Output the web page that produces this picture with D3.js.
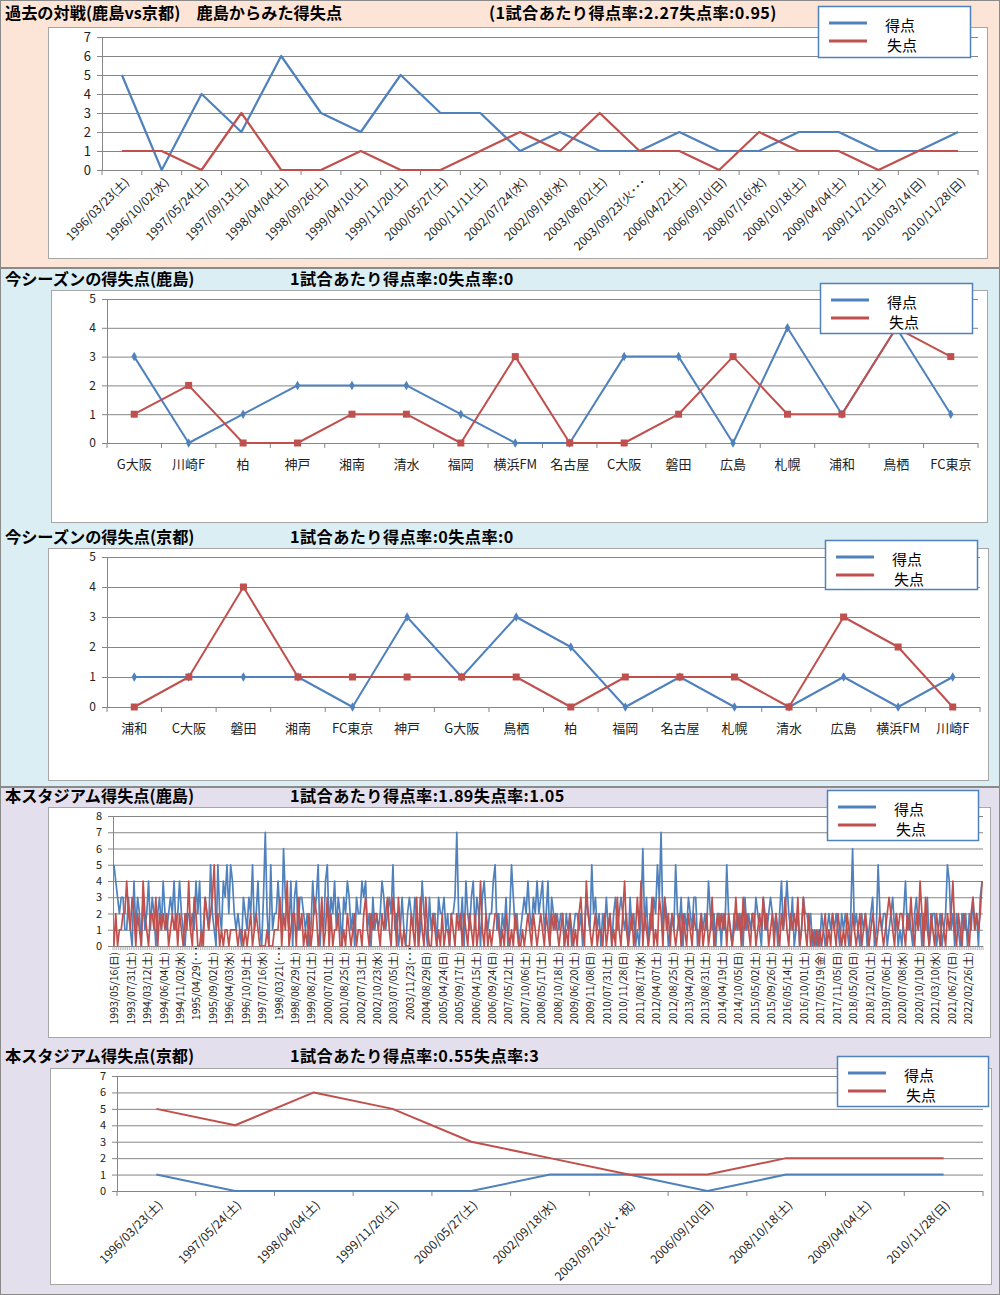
<!DOCTYPE html>
<html><head><meta charset="utf-8">
<script src="https://cdn.jsdelivr.net/npm/d3@7"></script>
<style>body{margin:0;background:#fff}svg{display:block}</style>
</head><body><svg id="c" width="1000" height="1295"></svg>
<script>
// ---------- DATA ----------
const h2hDates = ["1996/03/23(土)","1996/10/02(水)","1997/05/24(土)","1997/09/13(土)","1998/04/04(土)","1998/09/26(土)","1999/04/10(土)","1999/11/20(土)","2000/05/27(土)","2000/11/11(土)","2002/07/24(水)","2002/09/18(水)","2003/08/02(土)","2003/09/23(火･･･","2006/04/22(土)","2006/09/10(日)","2008/07/16(水)","2008/10/18(土)","2009/04/04(土)","2009/11/21(土)","2010/03/14(日)","2010/11/28(日)"];
const h2hFor     = [5,0,4,2,6,3,2,5,3,3,1,2,1,1,2,1,1,2,2,1,1,2];
const h2hAgainst = [1,1,0,3,0,0,1,0,0,1,2,1,3,1,1,0,2,1,1,0,1,1];

const kashimaTeams   = ["G大阪","川崎F","柏","神戸","湘南","清水","福岡","横浜FM","名古屋","C大阪","磐田","広島","札幌","浦和","鳥栖","FC東京"];
const kashimaFor     = [3,0,1,2,2,2,1,0,0,3,3,0,4,1,4,1];
const kashimaAgainst = [1,2,0,0,1,1,0,3,0,0,1,3,1,1,4,3];

const kyotoTeams   = ["浦和","C大阪","磐田","湘南","FC東京","神戸","G大阪","鳥栖","柏","福岡","名古屋","札幌","清水","広島","横浜FM","川崎F"];
const kyotoFor     = [1,1,1,1,0,3,1,3,2,0,1,0,0,1,0,1];
const kyotoAgainst = [0,1,4,1,1,1,1,1,0,1,1,1,0,3,2,0];

const homeTickLabels = ["1993/05/16(日)","1993/07/31(土)","1994/03/12(土)","1994/06/04(土)","1994/11/02(水)","1995/04/29(･･･","1995/09/02(土)","1996/04/03(水)","1996/10/19(土)","1997/07/16(水)","1998/03/21(･･･","1998/08/29(土)","1999/08/21(土)","2000/07/01(土)","2001/08/25(土)","2002/07/13(土)","2002/10/23(水)","2003/07/05(土)","2003/11/23(･･･","2004/08/29(日)","2005/04/24(日)","2005/09/17(土)","2006/04/15(土)","2006/09/24(日)","2007/05/12(土)","2007/10/06(土)","2008/05/17(土)","2008/10/18(土)","2009/06/20(土)","2009/11/08(日)","2010/07/31(土)","2010/11/28(日)","2011/08/17(水)","2012/04/07(土)","2012/08/25(土)","2013/04/20(土)","2013/08/31(土)","2014/04/19(土)","2014/10/05(日)","2015/05/02(土)","2015/09/26(土)","2016/05/14(土)","2016/10/01(土)","2017/05/19(金)","2017/11/05(日)","2018/05/20(日)","2018/12/01(土)","2019/07/06(土)","2020/07/08(水)","2020/10/10(土)","2021/03/10(水)","2021/06/27(日)","2022/02/26(土)"];
const homeLabelEvery = 9;
const homeFor = [
5,4,3,2,3,3,1,1,3, 1,0,4,1,3,2,0,3,1, 2,4,1,3,2,0,2,3,1, 4,2,1,2,3,2,4,1,2, 4,2,1,0,2,2,1,2,1,
4,2,4,0,1,3,2,1,5, 2,1,0,5,2,1,4,3,5, 2,5,4,2,1,2,1,0,3, 2,1,3,2,5,1,2,4,1, 0,3,7,2,0,5,1,2,2,
4,2,1,6,3,2,1,4,0, 3,4,1,3,3,2,1,2,0, 1,4,2,3,5,0,2,1,4, 5,1,3,2,4,1,3,2,0, 3,2,4,3,1,2,0,3,2,
2,4,3,4,1,2,0,3,1, 2,1,2,4,3,1,2,3,2, 5,1,2,0,1,3,1,0,2, 3,2,1,3,2,0,1,4,2, 1,0,3,1,2,2,0,3,2,
2,3,1,2,0,2,2,3,7, 2,1,3,0,4,2,1,3,4, 1,3,2,0,3,4,2,1,2, 2,4,5,1,2,0,2,1,3, 0,2,5,3,1,2,0,1,2,
3,2,4,2,1,3,2,4,2, 3,4,1,2,4,0,3,2,1, 2,1,2,2,0,2,1,2,0, 1,2,2,1,2,0,1,3,2, 1,5,2,3,1,2,0,2,1,
3,1,2,0,2,3,1,2,3, 2,1,2,0,3,1,2,0,1, 0,2,6,1,3,0,2,1,3, 2,5,3,7,1,3,2,0,1, 2,1,5,2,1,3,0,2,1,
3,2,1,3,3,0,1,2,1, 2,1,4,2,1,2,0,2,2, 0,2,1,5,2,1,0,2,1, 2,1,2,0,3,1,2,1,2, 1,3,2,1,0,3,2,1,2,
3,2,1,2,0,2,4,1,2, 4,2,1,3,0,1,2,0,1, 3,2,2,1,2,0,1,0,1, 0,2,1,0,1,2,1,2,1, 2,1,0,2,1,2,1,0,2,
6,1,2,1,0,2,1,2,0, 1,2,3,0,1,5,2,1,2, 2,0,1,2,3,1,2,0,1, 0,2,4,1,2,1,0,2,3, 1,2,0,2,1,3,0,1,2,
2,0,1,2,0,1,2,5,4, 1,2,0,2,1,0,2,1,2, 0,2,1,3,1,2,0,3,4];
const homeAgainst = [
0,2,0,1,1,2,2,4,2, 1,3,2,0,2,1,0,4,2, 1,0,2,2,1,3,0,2,1, 2,1,2,0,1,2,1,2,0, 2,1,0,2,1,4,1,0,3,
2,0,0,1,0,3,2,1,2, 3,5,1,2,0,1,0,1,1, 0,1,1,1,1,0,1,1,0, 1,0,1,2,0,1,2,1,0, 0,0,0,1,0,0,0,1,1,
1,3,0,2,1,4,0,1,2, 2,0,3,1,2,0,1,0,2, 0,1,3,2,0,1,3,0,1, 3,0,2,0,1,1,2,0,0, 1,0,2,1,0,1,2,0,1,
1,0,2,3,1,0,2,1,2, 2,1,0,2,1,2,3,1,0, 3,2,0,3,1,0,1,0,0, 0,2,1,0,3,0,3,1,0, 3,1,0,0,2,1,0,1,0,
2,0,1,1,0,2,1,0,2, 1,2,0,2,1,0,2,1,0, 2,0,1,4,1,0,2,0,1, 0,1,2,2,1,0,1,0,2, 1,0,1,0,2,1,0,0,1,
0,1,2,1,0,2,1,0,1, 2,1,0,2,1,0,2,1,2, 1,0,1,2,0,1,0,2,1, 0,1,0,2,3,1,0,4,2, 1,0,1,2,0,1,1,0,2,
0,1,2,0,1,0,3,1,0, 2,4,1,0,1,2,0,1,3, 1,4,0,2,1,0,1,3,0, 1,0,3,2,0,3,1,2,0, 2,1,0,1,2,0,2,1,0,
2,1,0,2,1,1,0,2,0, 1,2,0,1,3,0,1,2,1, 2,1,2,0,2,1,0,1,3, 1,2,0,3,1,2,1,0,2, 2,0,1,2,1,3,1,2,0,
1,2,0,2,1,0,2,1,3, 1,0,2,1,2,1,3,0,1, 3,1,0,2,0,1,0,1,0, 1,0,1,2,0,1,0,2,1, 0,2,1,0,1,0,2,1,0,
2,1,0,1,2,0,1,2,1, 0,1,2,1,0,1,2,1,0, 1,2,3,2,1,0,2,1,2, 2,1,0,2,1,3,1,0,2, 1,4,2,0,3,1,0,2,1,
0,2,1,0,2,1,0,2,1, 2,4,1,0,2,1,0,2,1, 1,0,2,3,1,2,1,2,4];

const kyotoHomeDates = ["1996/03/23(土)","1997/05/24(土)","1998/04/04(土)","1999/11/20(土)","2000/05/27(土)","2002/09/18(水)","2003/09/23(火・祝)","2006/09/10(日)","2008/10/18(土)","2009/04/04(土)","2010/11/28(日)"];
const kyotoHomeFor     = [1,0,0,0,0,1,1,0,1,1,1];
const kyotoHomeAgainst = [5,4,6,5,3,2,1,1,2,2,2];

const seriesNames = ["得点","失点"];

// ---------- DRAW ----------
const FONT = '"Noto Sans CJK JP","Noto Sans",sans-serif';
const BLUE = '#4F81BD', RED = '#C0504D', GRID = '#868686';
const svg = d3.select('#c').style('font-family', FONT);

// section backgrounds
[[0,0,1000,268,'#FCE5D6'],[0,268,1000,519,'#DBEEF3'],[0,787,1000,508,'#E4DFEC']].forEach(s=>{
  svg.append('rect').attr('x',s[0]+0.5).attr('y',s[1]+0.5).attr('width',s[2]-1).attr('height',s[3]-1)
    .attr('fill',s[4]).attr('stroke','#8a8a8a');
});

function drawPanel(c){
  const g = svg.append('g');
  g.append('text').attr('x',5).attr('y',c.titleY).attr('dominant-baseline','central')
    .attr('font-size',16.2).attr('font-weight','bold').attr('fill','#000').text(c.title);
  g.append('text').attr('x',c.subX).attr('y',c.titleY).attr('dominant-baseline','central')
    .attr('font-size',16.2).attr('letter-spacing',0.4).attr('font-weight','bold').attr('fill','#000').text(c.sub);
  g.append('rect').attr('x',c.box[0]+0.5).attr('y',c.box[1]+0.5)
    .attr('width',c.box[2]-c.box[0]).attr('height',c.box[3]-c.box[1])
    .attr('fill','#fff').attr('stroke','#a6a6a6');

  const n = c.cats.length;
  const x = d3.scaleBand().domain(d3.range(n)).range([c.left,c.right]);
  const y = d3.scaleLinear().domain([0,c.yMax]).range([c.bottom,c.top]);
  const bw = x.bandwidth();
  const cx = i => x(i) + bw/2;
  const tv = d3.range(0,c.yMax+1);

  // gridlines
  g.append('g').attr('transform',`translate(${c.left},0)`)
    .call(d3.axisLeft(y).tickValues(tv).tickSize(-(c.right-c.left)).tickSizeOuter(0).tickFormat(''))
    .call(a=>{a.select('.domain').remove(); a.selectAll('line').attr('stroke',GRID);});
  // y axis
  g.append('g').attr('transform',`translate(${c.left},0)`)
    .call(d3.axisLeft(y).tickValues(tv).tickSize(5).tickSizeOuter(0).tickPadding(c.yPad).tickFormat(d3.format('d')))
    .call(a=>{
      a.select('.domain').attr('stroke',GRID);
      a.selectAll('line').attr('stroke',GRID);
      a.selectAll('text').attr('font-family',FONT).attr('font-size',c.yFont).attr('fill','#222');
    });
  // x boundary ticks
  g.append('g').selectAll('line').data(d3.range(n+1)).join('line')
    .attr('x1',i=> i<n ? x(i) : c.right).attr('x2',i=> i<n ? x(i) : c.right)
    .attr('y1',c.bottom).attr('y2',c.bottom+c.tickLen)
    .attr('stroke',GRID).attr('stroke-width',c.tickW||1);

  // x labels
  const lab = c.labels.map((t,k)=>({t, i:k*(c.every||1)}));
  const lg = g.append('g').attr('font-size',c.xFont).attr('fill','#222');
  lg.selectAll('text').data(lab).join('text')
    .attr('transform',d=>{
      if(c.mode==='h') return `translate(${cx(d.i)},${c.bottom+c.labDy})`;
      if(c.mode==='r45') return `translate(${cx(d.i)+c.labDx},${c.bottom+c.labDy}) rotate(-45)`;
      return `translate(${cx(d.i)},${c.bottom+(d.t.includes('･') ? c.labDy-6 : c.labDy)}) rotate(-90)`;
    })
    .attr('text-anchor',c.mode==='h'?'middle':'end')
    .attr('dominant-baseline','central')
    .text(d=>d.t);

  // lines
  const colors = [BLUE, RED];
  const line = d3.line().x((v,i)=>cx(i)).y(v=>y(v));
  c.series.forEach((s,k)=>{
    g.append('path').datum(s).attr('d',line).attr('fill','none')
      .attr('stroke',colors[k]).attr('stroke-width',c.lw).attr('stroke-linejoin','round');
  });
  if(c.markers){
    g.append('g').selectAll('path').data(c.series[0]).join('path')
      .attr('transform',(v,i)=>`translate(${cx(i)},${y(v)})`)
      .attr('d',d3.symbol(d3.symbolDiamond,26)).attr('fill',BLUE);
    g.append('g').selectAll('rect').data(c.series[1]).join('rect')
      .attr('x',(v,i)=>cx(i)-3.5).attr('y',v=>y(v)-3.5).attr('width',7).attr('height',7).attr('fill',RED);
  }

  // legend
  const L = c.legend;
  const lgd = g.append('g');
  lgd.append('rect').attr('x',L.x+0.5).attr('y',L.y+0.5).attr('width',L.w).attr('height',L.h)
    .attr('fill','#fff').attr('stroke','#4F81BD').attr('stroke-width',1.5);
  seriesNames.forEach((nm,k)=>{
    lgd.append('line').attr('x1',L.x+11).attr('x2',L.x+49).attr('y1',L.y+17+k*18).attr('y2',L.y+17+k*18)
      .attr('stroke',colors[k]).attr('stroke-width',3);
    lgd.append('text').attr('x',L.x+67+k*2).attr('y',L.y+18+k*20).attr('dominant-baseline','central')
      .attr('font-size',15).attr('fill','#000').text(nm);
  });
}

drawPanel({title:'過去の対戦(鹿島vs京都)　鹿島からみた得失点', sub:'(1試合あたり得点率:2.27失点率:0.95)',
  titleY:12, subX:489, box:[48,27,987,258], left:102, right:978, top:37, bottom:170, yMax:7,
  cats:h2hDates, labels:h2hDates, mode:'r45', labDx:4, labDy:9, xFont:12, yFont:13, yPad:6,
  tickLen:5, lw:2.2, series:[h2hFor,h2hAgainst], markers:false, legend:{x:818,y:6,w:152,h:51}});

drawPanel({title:'今シーズンの得失点(鹿島)', sub:'1試合あたり得点率:0失点率:0',
  titleY:278, subX:290, box:[51,290,987,522], left:107, right:978, top:299, bottom:443, yMax:5,
  cats:kashimaTeams, labels:kashimaTeams, mode:'h', labDy:20, xFont:13, yFont:12, yPad:6,
  tickLen:5, lw:2, series:[kashimaFor,kashimaAgainst], markers:true, legend:{x:820,y:283,w:152,h:50}});

drawPanel({title:'今シーズンの得失点(京都)', sub:'1試合あたり得点率:0失点率:0',
  titleY:536, subX:290, box:[48,548,988,780], left:107, right:980, top:557, bottom:707, yMax:5,
  cats:kyotoTeams, labels:kyotoTeams, mode:'h', labDy:20, xFont:13, yFont:12, yPad:6,
  tickLen:5, lw:2, series:[kyotoFor,kyotoAgainst], markers:true, legend:{x:825,y:540,w:152,h:49}});

drawPanel({title:'本スタジアム得失点(鹿島)', sub:'1試合あたり得点率:1.89失点率:1.05',
  titleY:795, subX:290, box:[48,807,990,1037], left:113, right:983, top:816, bottom:946, yMax:8,
  cats:homeFor, labels:homeTickLabels, every:homeLabelEvery, mode:'r90', labDy:6, xFont:10.5, yFont:11, yPad:6,
  tickLen:4, tickW:0.6, lw:1.7, series:[homeFor,homeAgainst], markers:false, legend:{x:827,y:790,w:151,h:50}});

drawPanel({title:'本スタジアム得失点(京都)', sub:'1試合あたり得点率:0.55失点率:3',
  titleY:1055, subX:290, box:[50,1068,991,1284], left:117, right:983, top:1076, bottom:1191, yMax:7,
  cats:kyotoHomeDates, labels:kyotoHomeDates, mode:'r45', labDx:3, labDy:11, xFont:12, yFont:11, yPad:6,
  tickLen:5, lw:2, series:[kyotoHomeFor,kyotoHomeAgainst], markers:false, legend:{x:837,y:1056,w:151,h:50}});
</script>
</body></html>
